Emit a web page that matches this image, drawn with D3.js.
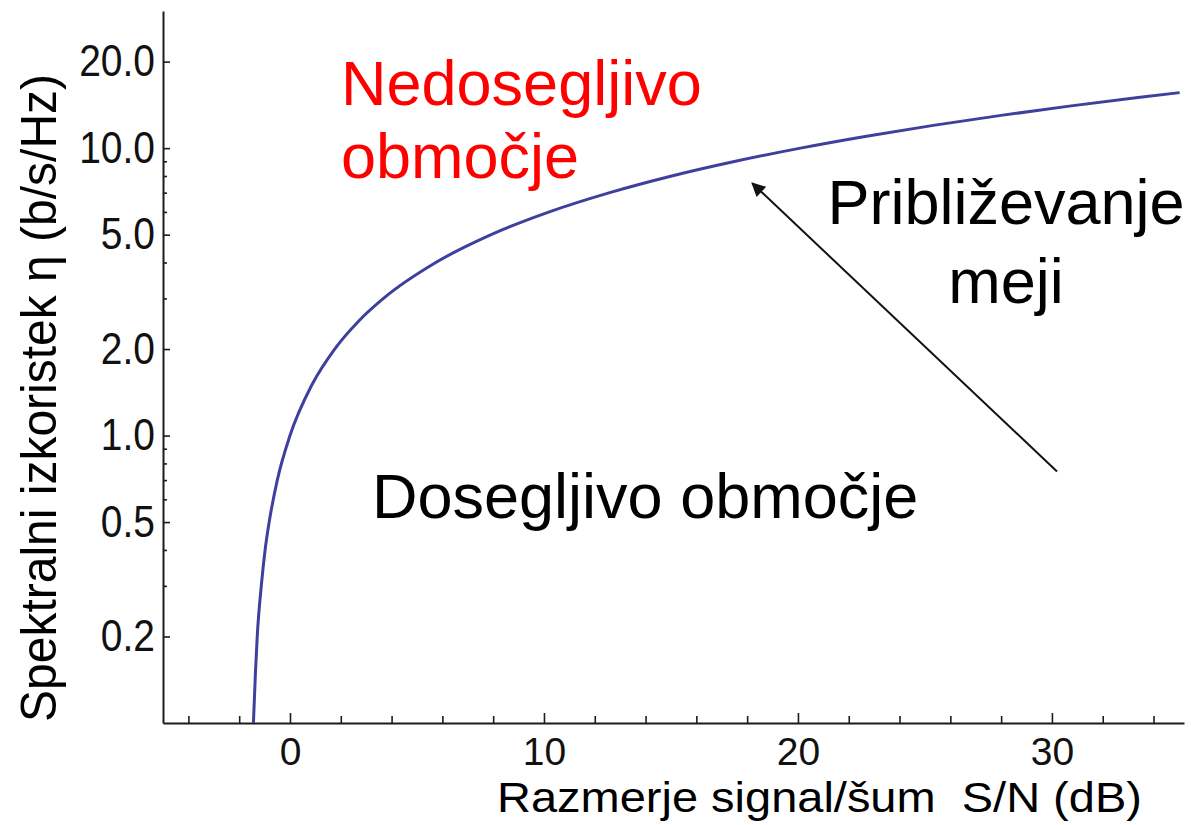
<!DOCTYPE html>
<html>
<head>
	<meta charset="utf-8">
	<title>Shannonova meja</title>
	<script src="https://cdn.jsdelivr.net/npm/d3@7"></script>
	<style>
		body { margin: 0; background: #fff; }
		svg { display: block; font-family: "Liberation Sans", Arial, sans-serif; }
	</style>
</head>
<body>
<script>
// podatki odčitani s slike: S/N (dB) in spektralni izkoristek
var snrDb = [-1.44, -1.36, -1.29, -1.13, -0.98, -0.82, -0.50, 0.00, 0.86, 1.76, 2.70, 3.68, 5.74, 7.92,
	10.21, 12.59, 15.03, 17.54, 20.10, 22.70, 25.33, 28.00, 30.68, 33.39, 35.03];
var eta = [0.10, 0.15, 0.20, 0.30, 0.40, 0.50, 0.70, 1.0, 1.5, 2.0, 2.5, 3.0, 4.0, 5.0,
	6.0, 7.0, 8.0, 9.0, 10.0, 11.0, 12.0, 13.0, 14.0, 15.0, 15.6];

var xMajor = [0, 10, 20, 30];
var xMinor = [-4, -2, 2, 4, 6, 8, 12, 14, 16, 18, 22, 24, 26, 28, 32, 34];
var yMajor = [0.2, 0.5, 1, 2, 5, 10, 20];
var yMinor = [0.3, 0.4, 0.6, 0.7, 0.8, 0.9, 3, 4, 6, 7, 8, 9];

var width = 1191, height = 825;
var plotLeft = 163, plotRight = 1184, plotTop = 11, plotBottom = 723;

var svg = d3.select("body").append("svg")
	.attr("width", width)
	.attr("height", height);

var x = d3.scaleLinear().domain([-5, 35.2]).range([plotLeft, plotRight]);
var y = d3.scaleLog().domain([0.1, 30]).range([plotBottom, plotTop]);

var axisColor = "#1c1c1c";

// os y
var gy = svg.append("g").attr("transform", "translate(" + plotLeft + ",0)")
	.call(d3.axisLeft(y).tickValues(yMajor).tickFormat(d3.format(".1f"))
		.tickSize(-7).tickSizeOuter(0).tickPadding(8));
svg.append("g").attr("transform", "translate(" + plotLeft + ",0)")
	.call(d3.axisLeft(y).tickValues(yMinor).tickFormat("").tickSize(-4).tickSizeOuter(0))
	.select(".domain").remove();

// os x
var gx = svg.append("g").attr("transform", "translate(0," + plotBottom + ")")
	.call(d3.axisBottom(x).tickValues(xMajor).tickFormat(d3.format("d"))
		.tickSize(-10).tickSizeOuter(0).tickPadding(14));
svg.append("g").attr("transform", "translate(0," + plotBottom + ")")
	.call(d3.axisBottom(x).tickValues(xMinor).tickFormat("").tickSize(-7).tickSizeOuter(0))
	.select(".domain").remove();

svg.selectAll(".domain").attr("stroke", axisColor).attr("stroke-width", 2);
svg.selectAll(".tick line").attr("stroke", axisColor).attr("stroke-width", 1.6);
svg.selectAll(".tick text")
	.attr("fill", "#111")
	.style("font-size", "39px");
gy.selectAll(".tick text").attr("transform", "scale(1,1.12)");

// krivulja
var line = d3.line()
	.x(function(d, i){ return x(snrDb[i]); })
	.y(function(d, i){ return y(eta[i]); })
	.curve(d3.curveMonotoneX);

svg.append("path")
	.datum(eta)
	.attr("d", line)
	.attr("fill", "none")
	.attr("stroke", "#3f3f9e")
	.attr("stroke-width", 3);

// puščica
svg.append("defs").append("marker")
	.attr("id", "arrow")
	.attr("viewBox", "0 0 10 10")
	.attr("refX", 9).attr("refY", 5)
	.attr("markerWidth", 8).attr("markerHeight", 7)
	.attr("markerUnits", "strokeWidth")
	.attr("orient", "auto")
	.append("path")
	.attr("d", "M0,0 L10,5 L0,10 z")
	.attr("fill", "#111");

svg.append("line")
	.attr("x1", x(30.2)).attr("y1", y(0.75))
	.attr("x2", x(18.2)).attr("y2", y(7.55))
	.attr("stroke", "#111")
	.attr("stroke-width", 2)
	.attr("marker-end", "url(#arrow)");

// napisi
svg.append("text")
	.attr("x", 341).attr("y", 105)
	.attr("fill", "#ff0000")
	.style("font-size", "63px")
	.text("Nedosegljivo");
svg.append("text")
	.attr("x", 341).attr("y", 178)
	.attr("fill", "#ff0000")
	.style("font-size", "63px")
	.text("območje");

svg.append("text")
	.attr("x", 1006).attr("y", 224)
	.attr("text-anchor", "middle")
	.style("font-size", "63px")
	.text("Približevanje");
svg.append("text")
	.attr("x", 1006).attr("y", 303)
	.attr("text-anchor", "middle")
	.style("font-size", "63px")
	.text("meji");

svg.append("text")
	.attr("x", 372).attr("y", 518)
	.style("font-size", "63px")
	.text("Dosegljivo območje");

// naslova osi
svg.append("text")
	.attr("transform", "translate(497,812) scale(1,0.92)")
	.attr("xml:space", "preserve")
	.style("font-size", "47px")
	.text("Razmerje signal/šum  S/N (dB)");

svg.append("text")
	.attr("transform", "translate(56,722) rotate(-90) scale(1,1.05)")
	.style("font-size", "48px")
	.text("Spektralni izkoristek η (b/s/Hz)");
</script>
</body>
</html>
